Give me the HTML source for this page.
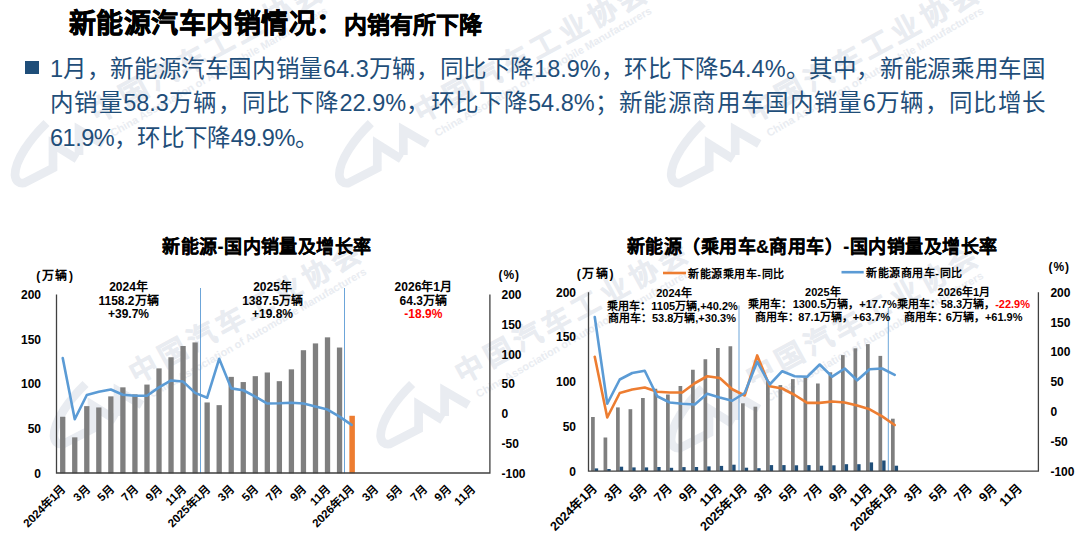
<!DOCTYPE html>
<html lang="zh-CN"><head><meta charset="utf-8">
<style>
html,body{margin:0;padding:0;background:#fff;}
body{width:1080px;height:543px;position:relative;overflow:hidden;font-family:'Liberation Sans', sans-serif;}
.t{position:absolute;white-space:nowrap;}
svg text{font-family:'Liberation Sans', sans-serif;}
.ax{font-size:12px;font-weight:bold;fill:#000;}
.xl{font-size:11.5px;font-weight:bold;fill:#000;}
.an{font-size:12px;font-weight:bold;fill:#000;}
.an2{font-size:11px;font-weight:bold;fill:#000;}
.lg{font-size:11px;font-weight:bold;letter-spacing:0.55px;fill:#000;}
.ct{font-size:18px;letter-spacing:0.47px;stroke:#000;stroke-width:0.22px;font-weight:bold;fill:#000;}
</style></head><body>
<svg width="1080" height="543" style="position:absolute;left:0;top:0">
<g transform="translate(46,120)" fill="none" stroke="#E9ECF1" stroke-width="8.7" stroke-linejoin="miter" stroke-miterlimit="6">
<path d="M0.5,3 C-16,19 -31,40 -31,55 Q-30,64 -22,63 L7,48 L7,24 L31,39"/>
<path d="M33,35 L33,10 L57,24"/>
</g>
<text transform="translate(96.6,123) rotate(-28.6)" style="font-size:28px;letter-spacing:5px;font-weight:bold;fill:#E9ECF1;stroke:#E9ECF1;stroke-width:0.5px">中国汽车工业协会</text>
<text transform="translate(113,137) rotate(-30)" style="font-size:10.9px;font-weight:bold;fill:#E9ECF1">China Association of Automobile Manufacturers</text>
<g transform="translate(370.3,120.1)" fill="none" stroke="#E9ECF1" stroke-width="8.7" stroke-linejoin="miter" stroke-miterlimit="6">
<path d="M0.5,3 C-16,19 -31,40 -31,55 Q-30,64 -22,63 L7,48 L7,24 L31,39"/>
<path d="M33,35 L33,10 L57,24"/>
</g>
<text transform="translate(420.9,123.1) rotate(-28.6)" style="font-size:28px;letter-spacing:5px;font-weight:bold;fill:#E9ECF1;stroke:#E9ECF1;stroke-width:0.5px">中国汽车工业协会</text>
<text transform="translate(437.3,137.1) rotate(-30)" style="font-size:10.9px;font-weight:bold;fill:#E9ECF1">China Association of Automobile Manufacturers</text>
<g transform="translate(702.2,120.1)" fill="none" stroke="#E9ECF1" stroke-width="8.7" stroke-linejoin="miter" stroke-miterlimit="6">
<path d="M0.5,3 C-16,19 -31,40 -31,55 Q-30,64 -22,63 L7,48 L7,24 L31,39"/>
<path d="M33,35 L33,10 L57,24"/>
</g>
<text transform="translate(752.8,123.1) rotate(-28.6)" style="font-size:28px;letter-spacing:5px;font-weight:bold;fill:#E9ECF1;stroke:#E9ECF1;stroke-width:0.5px">中国汽车工业协会</text>
<text transform="translate(769.2,137.1) rotate(-30)" style="font-size:10.9px;font-weight:bold;fill:#E9ECF1">China Association of Automobile Manufacturers</text>
<g transform="translate(85,381)" fill="none" stroke="#E9ECF1" stroke-width="8.7" stroke-linejoin="miter" stroke-miterlimit="6">
<path d="M0.5,3 C-16,19 -31,40 -31,55 Q-30,64 -22,63 L7,48 L7,24 L31,39"/>
<path d="M33,35 L33,10 L57,24"/>
</g>
<text transform="translate(135.6,384) rotate(-28.6)" style="font-size:28px;letter-spacing:5px;font-weight:bold;fill:#E9ECF1;stroke:#E9ECF1;stroke-width:0.5px">中国汽车工业协会</text>
<text transform="translate(152,398) rotate(-30)" style="font-size:10.9px;font-weight:bold;fill:#E9ECF1">China Association of Automobile Manufacturers</text>
<g transform="translate(411.6,381)" fill="none" stroke="#E9ECF1" stroke-width="8.7" stroke-linejoin="miter" stroke-miterlimit="6">
<path d="M0.5,3 C-16,19 -31,40 -31,55 Q-30,64 -22,63 L7,48 L7,24 L31,39"/>
<path d="M33,35 L33,10 L57,24"/>
</g>
<text transform="translate(462.2,384) rotate(-28.6)" style="font-size:28px;letter-spacing:5px;font-weight:bold;fill:#E9ECF1;stroke:#E9ECF1;stroke-width:0.5px">中国汽车工业协会</text>
<text transform="translate(478.6,398) rotate(-30)" style="font-size:10.9px;font-weight:bold;fill:#E9ECF1">China Association of Automobile Manufacturers</text>
<g transform="translate(702,385)" fill="none" stroke="#E9ECF1" stroke-width="8.7" stroke-linejoin="miter" stroke-miterlimit="6">
<path d="M0.5,3 C-16,19 -31,40 -31,55 Q-30,64 -22,63 L7,48 L7,24 L31,39"/>
<path d="M33,35 L33,10 L57,24"/>
</g>
<text transform="translate(752.6,388) rotate(-28.6)" style="font-size:28px;letter-spacing:5px;font-weight:bold;fill:#E9ECF1;stroke:#E9ECF1;stroke-width:0.5px">中国汽车工业协会</text>
<text transform="translate(769,402) rotate(-30)" style="font-size:10.9px;font-weight:bold;fill:#E9ECF1">China Association of Automobile Manufacturers</text>
</svg>
<div class="t" style="left:69px;top:2px;font-size:27px;font-weight:bold;letter-spacing:0.45px;color:#000;-webkit-text-stroke:0.6px #000;">新能源汽车内销情况：</div>
<div class="t" style="left:344px;top:6px;font-size:23px;font-weight:bold;color:#000;-webkit-text-stroke:0.5px #000;">内销有所下降</div>
<div style="position:absolute;left:25.3px;top:61px;width:13.6px;height:13.4px;background:#1F4E79"></div>
<div class="t" style="left:50px;top:50px;font-size:23.5px;color:#1F4E79;letter-spacing:0.627px;"><span style="letter-spacing:0">1</span>月，新能源汽车国内销量<span style="letter-spacing:0">64.3</span>万辆，同比下降<span style="letter-spacing:0">18.9%</span>，环比下降<span style="letter-spacing:0">54.4%</span>。其中，新能源乘用车国</div>
<div class="t" style="left:50px;top:84px;font-size:23.5px;color:#1F4E79;letter-spacing:1.375px;">内销量<span style="letter-spacing:0">58.3</span>万辆，同比下降<span style="letter-spacing:0">22.9%</span>，环比下降<span style="letter-spacing:0">54.8%</span>；新能源商用车国内销量<span style="letter-spacing:0">6</span>万辆，同比增长</div>
<div class="t" style="left:50px;top:119.3px;font-size:23.5px;color:#1F4E79;letter-spacing:0.3px"><span style="letter-spacing:-0.5px">61.9%</span>，环比下降<span style="letter-spacing:-0.5px">49.9%</span>。</div>
<svg width="1080" height="543" style="position:absolute;left:0;top:0">
<line x1="200.5" y1="288" x2="200.5" y2="473.3" stroke="#5B9BD5" stroke-width="0.9"/>
<line x1="344.5" y1="288" x2="344.5" y2="473.3" stroke="#5B9BD5" stroke-width="0.9"/>
<rect x="60.07" y="416.77" width="5.3" height="56.53" fill="#7F7F7F"/>
<rect x="72.1" y="437.34" width="5.3" height="35.96" fill="#7F7F7F"/>
<rect x="84.14" y="406.12" width="5.3" height="67.18" fill="#7F7F7F"/>
<rect x="96.18" y="407.46" width="5.3" height="65.84" fill="#7F7F7F"/>
<rect x="108.21" y="396.37" width="5.3" height="76.93" fill="#7F7F7F"/>
<rect x="120.25" y="387.34" width="5.3" height="85.96" fill="#7F7F7F"/>
<rect x="132.28" y="394.32" width="5.3" height="78.98" fill="#7F7F7F"/>
<rect x="144.32" y="384.57" width="5.3" height="88.73" fill="#7F7F7F"/>
<rect x="156.36" y="368.38" width="5.3" height="104.92" fill="#7F7F7F"/>
<rect x="168.39" y="357.28" width="5.3" height="116.02" fill="#7F7F7F"/>
<rect x="180.43" y="346.01" width="5.3" height="127.29" fill="#7F7F7F"/>
<rect x="192.47" y="342.43" width="5.3" height="130.87" fill="#7F7F7F"/>
<rect x="204.5" y="402.46" width="5.3" height="70.84" fill="#7F7F7F"/>
<rect x="216.54" y="405.14" width="5.3" height="68.16" fill="#7F7F7F"/>
<rect x="228.57" y="376.87" width="5.3" height="96.43" fill="#7F7F7F"/>
<rect x="240.61" y="382.06" width="5.3" height="91.24" fill="#7F7F7F"/>
<rect x="252.65" y="376.16" width="5.3" height="97.14" fill="#7F7F7F"/>
<rect x="264.68" y="372.49" width="5.3" height="100.81" fill="#7F7F7F"/>
<rect x="276.72" y="381.17" width="5.3" height="92.13" fill="#7F7F7F"/>
<rect x="288.75" y="369.36" width="5.3" height="103.94" fill="#7F7F7F"/>
<rect x="300.79" y="350.22" width="5.3" height="123.08" fill="#7F7F7F"/>
<rect x="312.83" y="343.42" width="5.3" height="129.88" fill="#7F7F7F"/>
<rect x="324.86" y="337.34" width="5.3" height="135.96" fill="#7F7F7F"/>
<rect x="336.9" y="347.53" width="5.3" height="125.77" fill="#7F7F7F"/>
<rect x="349.38" y="415.78" width="5.5" height="57.52" fill="#ED7D31"/>
<path d="M62.72,358.03 C62.72,358.03 74.75,419.27 74.75,419.27 C74.75,419.27 86.79,395 86.79,395 C86.79,395 98.83,391.84 98.83,391.84 C98.83,391.84 110.86,389.46 110.86,389.46 C110.86,389.46 122.9,394.7 122.9,394.7 C122.9,394.7 134.93,395.72 134.93,395.72 C134.93,395.72 146.97,395.78 146.97,395.78 C146.97,395.78 159.01,387.43 159.01,387.43 C159.01,387.43 171.04,380.45 171.04,380.45 C171.04,380.45 183.08,381.58 183.08,381.58 C183.08,381.58 195.12,392.91 195.12,392.91 C195.12,392.91 207.15,397.68 207.15,397.68 C207.15,397.68 219.19,358.8 219.19,358.8 C219.19,358.8 231.22,388.38 231.22,388.38 C231.22,388.38 243.26,390.23 243.26,390.23 C243.26,390.23 255.3,396.67 255.3,396.67 C255.3,396.67 267.33,403.53 267.33,403.53 C267.33,403.53 279.37,403.29 279.37,403.29 C279.37,403.29 291.4,402.75 291.4,402.75 C291.4,402.75 303.44,403.53 303.44,403.53 C303.44,403.53 315.48,406.39 315.48,406.39 C315.48,406.39 327.51,409.55 327.51,409.55 C327.51,409.55 339.55,416.65 339.55,416.65 C339.55,416.65 351.58,424.94 351.58,424.94" fill="none" stroke="#5B9BD5" stroke-width="2.6" stroke-linejoin="round" stroke-linecap="round"/>
<path d="M56.5,294.4 V473 H489.9 V294.4" fill="none" stroke="#404040" stroke-width="1.3" stroke-linejoin="miter"/>
<text x="41" y="477.8" text-anchor="end" class="ax">0</text>
<text x="41" y="433.07" text-anchor="end" class="ax">50</text>
<text x="41" y="388.35" text-anchor="end" class="ax">100</text>
<text x="41" y="343.62" text-anchor="end" class="ax">150</text>
<text x="41" y="298.9" text-anchor="end" class="ax">200</text>
<text x="501.5" y="477.8" class="ax">-100</text>
<text x="501.5" y="447.98" class="ax">-50</text>
<text x="501.5" y="418.17" class="ax">0</text>
<text x="501.5" y="388.35" class="ax">50</text>
<text x="501.5" y="358.53" class="ax">100</text>
<text x="501.5" y="328.72" class="ax">150</text>
<text x="501.5" y="298.9" class="ax">200</text>
<text x="36.3" y="280" class="ax" style="letter-spacing:1.6px">(万辆)</text>
<text x="498.5" y="279" class="ax" style="letter-spacing:0.9px">(%)</text>
<text transform="translate(66.22,489.8) rotate(-45)" text-anchor="end" class="xl">2024年1月</text>
<text transform="translate(90.29,489.8) rotate(-45)" text-anchor="end" class="xl">3月</text>
<text transform="translate(114.36,489.8) rotate(-45)" text-anchor="end" class="xl">5月</text>
<text transform="translate(138.43,489.8) rotate(-45)" text-anchor="end" class="xl">7月</text>
<text transform="translate(162.51,489.8) rotate(-45)" text-anchor="end" class="xl">9月</text>
<text transform="translate(186.58,489.8) rotate(-45)" text-anchor="end" class="xl">11月</text>
<text transform="translate(210.65,489.8) rotate(-45)" text-anchor="end" class="xl">2025年1月</text>
<text transform="translate(234.72,489.8) rotate(-45)" text-anchor="end" class="xl">3月</text>
<text transform="translate(258.8,489.8) rotate(-45)" text-anchor="end" class="xl">5月</text>
<text transform="translate(282.87,489.8) rotate(-45)" text-anchor="end" class="xl">7月</text>
<text transform="translate(306.94,489.8) rotate(-45)" text-anchor="end" class="xl">9月</text>
<text transform="translate(331.01,489.8) rotate(-45)" text-anchor="end" class="xl">11月</text>
<text transform="translate(355.08,489.8) rotate(-45)" text-anchor="end" class="xl">2026年1月</text>
<text transform="translate(379.16,489.8) rotate(-45)" text-anchor="end" class="xl">3月</text>
<text transform="translate(403.23,489.8) rotate(-45)" text-anchor="end" class="xl">5月</text>
<text transform="translate(427.3,489.8) rotate(-45)" text-anchor="end" class="xl">7月</text>
<text transform="translate(451.37,489.8) rotate(-45)" text-anchor="end" class="xl">9月</text>
<text transform="translate(475.45,489.8) rotate(-45)" text-anchor="end" class="xl">11月</text>
<text x="128.5" y="291" text-anchor="middle" class="an">2024年</text>
<text x="128.5" y="304.6" text-anchor="middle" class="an">1158.2万辆</text>
<text x="128.5" y="318.2" text-anchor="middle" class="an">+39.7%</text>
<text x="272.5" y="291" text-anchor="middle" class="an">2025年</text>
<text x="272.5" y="304.6" text-anchor="middle" class="an">1387.5万辆</text>
<text x="272.5" y="318.2" text-anchor="middle" class="an">+19.8%</text>
<text x="423.3" y="291" text-anchor="middle" class="an">2026年1月</text>
<text x="423.3" y="304.6" text-anchor="middle" class="an">64.3万辆</text>
<text x="423.3" y="318.2" text-anchor="middle" class="an" style="fill:#FF0000">-18.9%</text>
<text x="162.2" y="252.5" class="ct">新能源-国内销量及增长率</text>
<line x1="739" y1="305.5" x2="739" y2="471" stroke="#5B9BD5" stroke-width="0.9"/>
<line x1="888.3" y1="307" x2="888.3" y2="471" stroke="#5B9BD5" stroke-width="0.9"/>
<rect x="591.05" y="417" width="3.7" height="54" fill="#7F7F7F"/>
<rect x="594.75" y="468.4" width="3.4" height="2.6" fill="#1F4E79"/>
<rect x="603.55" y="437.5" width="3.7" height="33.5" fill="#7F7F7F"/>
<rect x="607.25" y="469" width="3.4" height="2" fill="#1F4E79"/>
<rect x="616.04" y="407.4" width="3.7" height="63.6" fill="#7F7F7F"/>
<rect x="619.74" y="466.7" width="3.4" height="4.3" fill="#1F4E79"/>
<rect x="628.54" y="409.2" width="3.7" height="61.8" fill="#7F7F7F"/>
<rect x="632.24" y="467.4" width="3.4" height="3.6" fill="#1F4E79"/>
<rect x="641.04" y="398" width="3.7" height="73" fill="#7F7F7F"/>
<rect x="644.74" y="467.4" width="3.4" height="3.6" fill="#1F4E79"/>
<rect x="653.53" y="388.75" width="3.7" height="82.25" fill="#7F7F7F"/>
<rect x="657.23" y="467" width="3.4" height="4" fill="#1F4E79"/>
<rect x="666.03" y="394.5" width="3.7" height="76.5" fill="#7F7F7F"/>
<rect x="669.73" y="467.8" width="3.4" height="3.2" fill="#1F4E79"/>
<rect x="678.53" y="386" width="3.7" height="85" fill="#7F7F7F"/>
<rect x="682.23" y="467.1" width="3.4" height="3.9" fill="#1F4E79"/>
<rect x="691.03" y="369.75" width="3.7" height="101.25" fill="#7F7F7F"/>
<rect x="694.73" y="467" width="3.4" height="4" fill="#1F4E79"/>
<rect x="703.52" y="359.25" width="3.7" height="111.75" fill="#7F7F7F"/>
<rect x="707.22" y="466.4" width="3.4" height="4.6" fill="#1F4E79"/>
<rect x="716.02" y="348" width="3.7" height="123" fill="#7F7F7F"/>
<rect x="719.72" y="465.9" width="3.4" height="5.1" fill="#1F4E79"/>
<rect x="728.52" y="346.25" width="3.7" height="124.75" fill="#7F7F7F"/>
<rect x="732.22" y="464.7" width="3.4" height="6.3" fill="#1F4E79"/>
<rect x="741.02" y="403.3" width="3.7" height="67.7" fill="#7F7F7F"/>
<rect x="744.72" y="467.7" width="3.4" height="3.3" fill="#1F4E79"/>
<rect x="753.51" y="406.7" width="3.7" height="64.3" fill="#7F7F7F"/>
<rect x="757.21" y="468.2" width="3.4" height="2.8" fill="#1F4E79"/>
<rect x="766.01" y="381" width="3.7" height="90" fill="#7F7F7F"/>
<rect x="769.71" y="465.1" width="3.4" height="5.9" fill="#1F4E79"/>
<rect x="778.51" y="385.1" width="3.7" height="85.9" fill="#7F7F7F"/>
<rect x="782.21" y="465.1" width="3.4" height="5.9" fill="#1F4E79"/>
<rect x="791" y="379.1" width="3.7" height="91.9" fill="#7F7F7F"/>
<rect x="794.7" y="465.3" width="3.4" height="5.7" fill="#1F4E79"/>
<rect x="803.5" y="377.7" width="3.7" height="93.3" fill="#7F7F7F"/>
<rect x="807.2" y="465.1" width="3.4" height="5.9" fill="#1F4E79"/>
<rect x="816" y="383.5" width="3.7" height="87.5" fill="#7F7F7F"/>
<rect x="819.7" y="465.7" width="3.4" height="5.3" fill="#1F4E79"/>
<rect x="828.5" y="372.3" width="3.7" height="98.7" fill="#7F7F7F"/>
<rect x="832.2" y="465.3" width="3.4" height="5.7" fill="#1F4E79"/>
<rect x="840.99" y="355.1" width="3.7" height="115.9" fill="#7F7F7F"/>
<rect x="844.69" y="464.2" width="3.4" height="6.8" fill="#1F4E79"/>
<rect x="853.49" y="348.3" width="3.7" height="122.7" fill="#7F7F7F"/>
<rect x="857.19" y="464.2" width="3.4" height="6.8" fill="#1F4E79"/>
<rect x="865.99" y="344.1" width="3.7" height="126.9" fill="#7F7F7F"/>
<rect x="869.69" y="462.4" width="3.4" height="8.6" fill="#1F4E79"/>
<rect x="878.48" y="355.9" width="3.7" height="115.1" fill="#7F7F7F"/>
<rect x="882.18" y="460.5" width="3.4" height="10.5" fill="#1F4E79"/>
<rect x="890.98" y="418.7" width="3.7" height="52.3" fill="#7F7F7F"/>
<rect x="894.68" y="465.7" width="3.4" height="5.3" fill="#1F4E79"/>
<path d="M594.75,356.75 C594.75,356.75 607.25,417.5 607.25,417.5 C607.25,417.5 619.74,393 619.74,393 C619.74,393 632.24,389.5 632.24,389.5 C632.24,389.5 644.74,387.5 644.74,387.5 C644.74,387.5 657.23,391.75 657.23,391.75 C657.23,391.75 669.73,392.5 669.73,392.5 C669.73,392.5 682.23,392.5 682.23,392.5 C682.23,392.5 694.73,383.25 694.73,383.25 C694.73,383.25 707.22,376.25 707.22,376.25 C707.22,376.25 719.72,378 719.72,378 C719.72,378 732.22,389.25 732.22,389.25 C732.22,389.25 744.72,395.5 744.72,395.5 C744.72,395.5 757.21,355.4 757.21,355.4 C757.21,355.4 769.71,386.3 769.71,386.3 C769.71,386.3 782.21,388.5 782.21,388.5 C782.21,388.5 794.7,395 794.7,395 C794.7,395 807.2,402.9 807.2,402.9 C807.2,402.9 819.7,402.9 819.7,402.9 C819.7,402.9 832.2,401.5 832.2,401.5 C832.2,401.5 844.69,402.5 844.69,402.5 C844.69,402.5 857.19,405.4 857.19,405.4 C857.19,405.4 869.69,409.3 869.69,409.3 C869.69,409.3 882.18,416.4 882.18,416.4 C882.18,416.4 894.68,425 894.68,425" fill="none" stroke="#ED7D31" stroke-width="2.6" stroke-linejoin="round" stroke-linecap="round"/>
<path d="M594.75,317 C594.75,317 607.25,403.75 607.25,403.75 C607.25,403.75 619.74,379.5 619.74,379.5 C619.74,379.5 632.24,373 632.24,373 C632.24,373 644.74,370.75 644.74,370.75 C644.74,370.75 657.23,396.25 657.23,396.25 C657.23,396.25 669.73,402.5 669.73,402.5 C669.73,402.5 682.23,403.75 682.23,403.75 C682.23,403.75 694.73,404.5 694.73,404.5 C694.73,404.5 707.22,393.75 707.22,393.75 C707.22,393.75 719.72,397.5 719.72,397.5 C719.72,397.5 732.22,400.75 732.22,400.75 C732.22,400.75 744.72,393 744.72,393 C744.72,393 757.21,361.7 757.21,361.7 C757.21,361.7 769.71,384.5 769.71,384.5 C769.71,384.5 782.21,371.2 782.21,371.2 C782.21,371.2 794.7,376.3 794.7,376.3 C794.7,376.3 807.2,376.8 807.2,376.8 C807.2,376.8 819.7,364.5 819.7,364.5 C819.7,364.5 832.2,376.7 832.2,376.7 C832.2,376.7 844.69,368.5 844.69,368.5 C844.69,368.5 857.19,380.3 857.19,380.3 C857.19,380.3 869.69,369.3 869.69,369.3 C869.69,369.3 882.18,368.5 882.18,368.5 C882.18,368.5 894.68,374.8 894.68,374.8" fill="none" stroke="#5B9BD5" stroke-width="2.6" stroke-linejoin="round" stroke-linecap="round"/>
<path d="M588.5,292.2 V471.2 H1038.4 V292.2" fill="none" stroke="#404040" stroke-width="1.3" stroke-linejoin="miter"/>
<text x="576" y="475.5" text-anchor="end" class="ax">0</text>
<text x="576" y="430.8" text-anchor="end" class="ax">50</text>
<text x="576" y="386.1" text-anchor="end" class="ax">100</text>
<text x="576" y="341.4" text-anchor="end" class="ax">150</text>
<text x="576" y="296.7" text-anchor="end" class="ax">200</text>
<text x="1050.4" y="475.5" class="ax">-100</text>
<text x="1050.4" y="445.7" class="ax">-50</text>
<text x="1050.4" y="415.9" class="ax">0</text>
<text x="1050.4" y="386.1" class="ax">50</text>
<text x="1050.4" y="356.3" class="ax">100</text>
<text x="1050.4" y="326.5" class="ax">150</text>
<text x="1050.4" y="296.7" class="ax">200</text>
<text x="576.8" y="277.5" class="ax" style="letter-spacing:1.6px">(万辆)</text>
<text x="1048.5" y="270.5" class="ax" style="letter-spacing:0.9px">(%)</text>
<text transform="translate(598.25,488.5) rotate(-45)" text-anchor="end" class="xl" style="font-size:12.5px">2024年1月</text>
<text transform="translate(623.24,488.5) rotate(-45)" text-anchor="end" class="xl" style="font-size:12.5px">3月</text>
<text transform="translate(648.24,488.5) rotate(-45)" text-anchor="end" class="xl" style="font-size:12.5px">5月</text>
<text transform="translate(673.23,488.5) rotate(-45)" text-anchor="end" class="xl" style="font-size:12.5px">7月</text>
<text transform="translate(698.23,488.5) rotate(-45)" text-anchor="end" class="xl" style="font-size:12.5px">9月</text>
<text transform="translate(723.22,488.5) rotate(-45)" text-anchor="end" class="xl" style="font-size:12.5px">11月</text>
<text transform="translate(748.22,488.5) rotate(-45)" text-anchor="end" class="xl" style="font-size:12.5px">2025年1月</text>
<text transform="translate(773.21,488.5) rotate(-45)" text-anchor="end" class="xl" style="font-size:12.5px">3月</text>
<text transform="translate(798.2,488.5) rotate(-45)" text-anchor="end" class="xl" style="font-size:12.5px">5月</text>
<text transform="translate(823.2,488.5) rotate(-45)" text-anchor="end" class="xl" style="font-size:12.5px">7月</text>
<text transform="translate(848.19,488.5) rotate(-45)" text-anchor="end" class="xl" style="font-size:12.5px">9月</text>
<text transform="translate(873.19,488.5) rotate(-45)" text-anchor="end" class="xl" style="font-size:12.5px">11月</text>
<text transform="translate(898.18,488.5) rotate(-45)" text-anchor="end" class="xl" style="font-size:12.5px">2026年1月</text>
<text transform="translate(923.18,488.5) rotate(-45)" text-anchor="end" class="xl" style="font-size:12.5px">3月</text>
<text transform="translate(948.17,488.5) rotate(-45)" text-anchor="end" class="xl" style="font-size:12.5px">5月</text>
<text transform="translate(973.17,488.5) rotate(-45)" text-anchor="end" class="xl" style="font-size:12.5px">7月</text>
<text transform="translate(998.16,488.5) rotate(-45)" text-anchor="end" class="xl" style="font-size:12.5px">9月</text>
<text transform="translate(1023.15,488.5) rotate(-45)" text-anchor="end" class="xl" style="font-size:12.5px">11月</text>
<line x1="663" y1="273" x2="686" y2="273" stroke="#ED7D31" stroke-width="2.6"/>
<text x="688" y="277.5" class="lg">新能源乘用车-同比</text>
<line x1="841.5" y1="272.2" x2="863.7" y2="272.2" stroke="#5B9BD5" stroke-width="2.6"/>
<text x="866" y="277" class="lg">新能源商用车-同比</text>
<text x="674" y="297" text-anchor="middle" class="an2">2024年</text>
<text x="737.8" y="309.5" text-anchor="end" class="an2">乘用车：1105万辆,+40.2%</text>
<text x="736" y="322.2" text-anchor="end" class="an2">商用车：53.8万辆,+30.3%</text>
<text x="822.8" y="295.5" text-anchor="middle" class="an2">2025年</text>
<text x="748.1" y="308" class="an2">乘用车：</text>
<text x="896.9" y="308" text-anchor="end" class="an2">1300.5万辆，+17.7%</text>
<text x="754.8" y="320.5" class="an2">商用车：</text>
<text x="890.4" y="320.5" text-anchor="end" class="an2">87.1万辆，+63.7%</text>
<text x="963.9" y="295.5" text-anchor="middle" class="an2">2026年1月</text>
<text x="897" y="308" class="an2">乘用车：</text>
<text x="1030" y="308" text-anchor="end" class="an2">58.3万辆，<tspan style="fill:#FF0000">-22.9%</tspan></text>
<text x="904" y="320.5" class="an2">商用车：</text>
<text x="1022.5" y="320.5" text-anchor="end" class="an2">6万辆，+61.9%</text>
<text x="626.7" y="252.5" class="ct">新能源（乘用车&amp;商用车）-国内销量及增长率</text>
</svg>
</body></html>
